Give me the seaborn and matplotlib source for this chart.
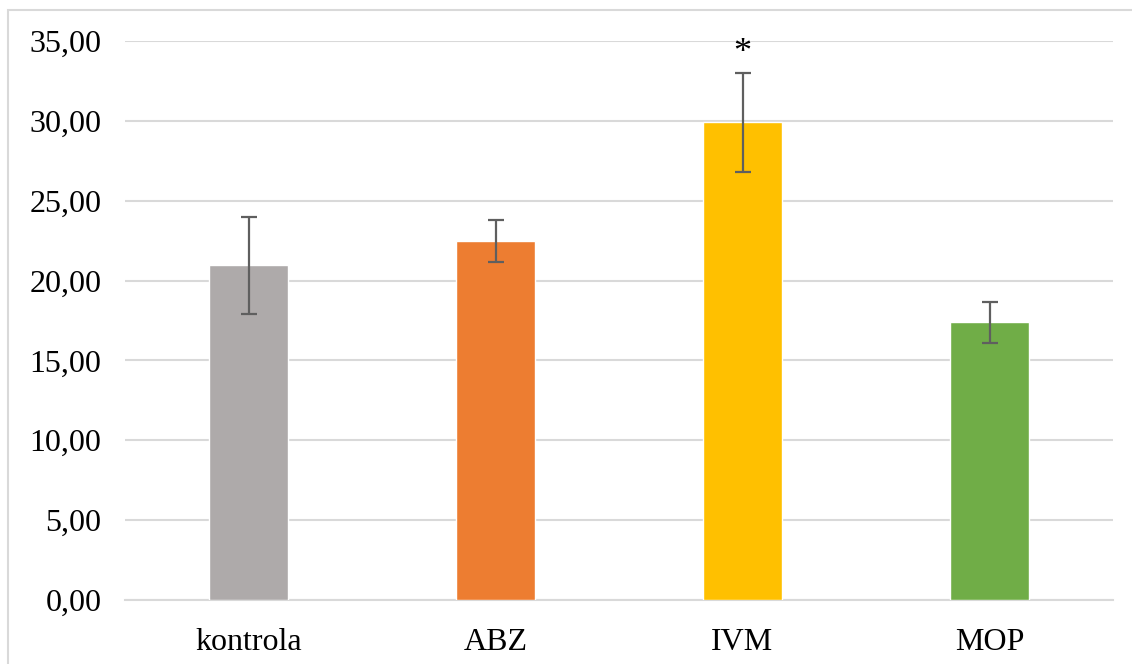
import matplotlib
matplotlib.use("Agg")
import matplotlib.pyplot as plt
from matplotlib.patches import Rectangle
import seaborn as sns
import pandas as pd

categories = ["kontrola", "ABZ", "IVM", "MOP"]
means = [20.95, 22.5, 29.9, 17.38]
errors = [3.02, 1.32, 3.1, 1.28]
colors = ["#AEAAAA", "#ED7D31", "#FFC000", "#70AD47"]
y_ticks = [0, 5, 10, 15, 20, 25, 30, 35]
tick_labels = ["0,00", "5,00", "10,00", "15,00", "20,00", "25,00", "30,00", "35,00"]
marks = ["", "", "*", ""]

sns.set_theme(style="white")
plt.rcParams["font.family"] = ["Liberation Serif", "DejaVu Serif"]

W, H = 1132, 664
fig = plt.figure(figsize=(W / 100, H / 100), dpi=100)
ax = fig.add_axes([125 / W, 1 - 600 / H, (1113 - 125) / W, (600 - 41) / H])

df = pd.DataFrame({"group": categories, "value": means})
sns.barplot(data=df, x="group", y="value", hue="group", palette=colors,
            order=categories, width=0.316, errorbar=None, legend=False,
            saturation=1, ax=ax, zorder=3)

xs = [p.get_x() + p.get_width() / 2 for p in ax.patches]
ax.errorbar(xs, means, yerr=errors, fmt="none", ecolor="#5F5F5F",
            elinewidth=1.6, capsize=6, capthick=1.6, zorder=4)

for x, m, e, s in zip(xs, means, errors, marks):
    if s:
        ax.text(x, m + e + 0.2, s, ha="center", va="bottom", fontsize=26,
                color="black")

ax.set_xlim(-0.5, len(categories) - 0.5)
ax.set_ylim(0, 35)
ax.set_yticks(y_ticks)
ax.set_yticklabels(tick_labels)
ax.yaxis.grid(True, color="#D9D9D9", linewidth=1.5, zorder=0)
ax.set_axisbelow(True)
ax.set_xlabel("")
ax.set_ylabel("")
for side in ["top", "right", "left"]:
    ax.spines[side].set_visible(False)
ax.spines["bottom"].set_color("#D9D9D9")
ax.spines["bottom"].set_linewidth(1.5)
ax.tick_params(axis="both", length=0, labelsize=23, colors="black")
ax.tick_params(axis="y", pad=17)
ax.tick_params(axis="x", pad=20)

fig.patches.append(Rectangle((8 / W, -0.1), 1.2, (1 - 10 / H) + 0.1,
                             transform=fig.transFigure, fill=False,
                             edgecolor="#D9D9D9", linewidth=1.5))

fig.savefig("out.png", dpi=100, facecolor="white")
